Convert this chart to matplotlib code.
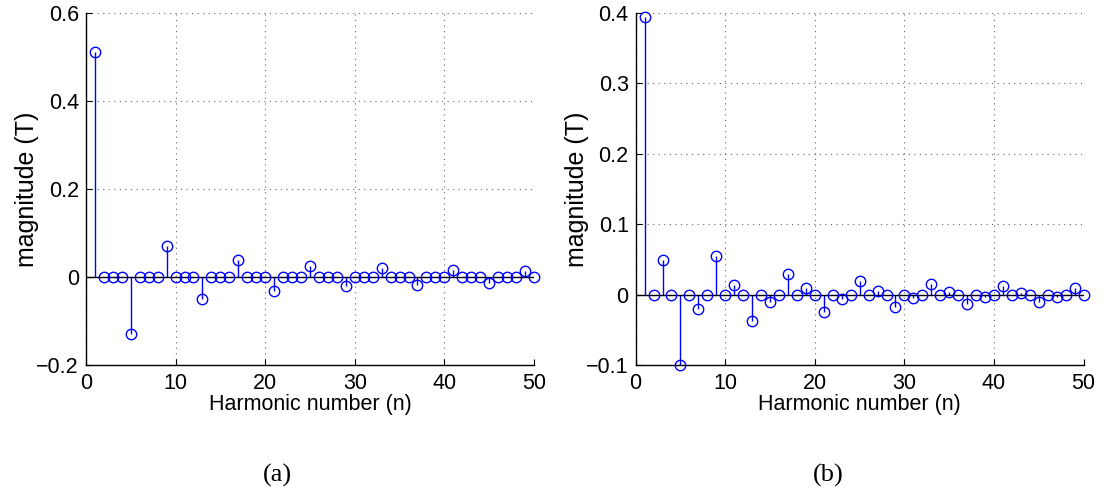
import matplotlib.pyplot as plt
import numpy as np

# Harmonic numbers 1..50
n = np.arange(1, 51)

# (a) non-zero harmonics only, everything else is 0
a_idx = [1, 5, 9, 13, 17, 21, 25, 29, 33, 37, 41, 45, 49]
a_val = [0.511, -0.129, 0.071, -0.050, 0.038, -0.031, 0.026,
         -0.021, 0.020, -0.017, 0.016, -0.013, 0.014]

# (b) odd harmonics
b_idx = [1, 3, 5, 7, 9, 11, 13, 15, 17, 19, 21, 23, 25,
         27, 29, 31, 33, 35, 37, 39, 41, 43, 45, 47, 49]
b_val = [0.394, 0.049, -0.100, -0.021, 0.055, 0.013, -0.038, -0.010,
         0.029, 0.009, -0.024, -0.006, 0.020, 0.005, -0.018, -0.005,
         0.015, 0.004, -0.014, -0.004, 0.012, 0.003, -0.011, -0.004, 0.010]

mag_a = np.zeros(50)
mag_a[np.array(a_idx) - 1] = a_val
mag_b = np.zeros(50)
mag_b[np.array(b_idx) - 1] = b_val

a_yticks = [-0.2, 0, 0.2, 0.4, 0.6]
b_yticks = [-0.1, 0, 0.1, 0.2, 0.3, 0.4]
xticks = [0, 10, 20, 30, 40, 50]

plt.rcParams['font.family'] = ['Liberation Sans', 'DejaVu Sans']

fig = plt.figure(figsize=(11.08, 4.92), dpi=100)
ax_a = fig.add_axes([0.0776, 0.2581, 0.4043, 0.7154])
ax_b = fig.add_axes([0.5737, 0.2581, 0.4043, 0.7154])


def draw(ax, mag, yticks, caption, cap_x):
    markerline, stemlines, baseline = ax.stem(n, mag, basefmt=' ')
    markerline.set_markerfacecolor('none')
    markerline.set_markeredgecolor('blue')
    markerline.set_markersize(7.5)
    markerline.set_markeredgewidth(1.0)
    markerline.set_clip_on(False)
    markerline.set_zorder(4)
    stemlines.set_color('blue')
    stemlines.set_linewidth(1.0)
    stemlines.set_clip_on(False)
    ax.axhline(0, color='black', lw=1.0, zorder=3)

    ax.set_xlim(0, 50)
    ax.set_ylim(yticks[0], yticks[-1])
    ax.set_xticks(xticks)
    ax.set_yticks(yticks)
    ax.set_yticklabels(['0' if t == 0 else f'{t:g}'.replace('-', '\u2212') for t in yticks])
    ax.grid(True, linestyle=(0, (1, 4)), color='#666666', lw=0.8)
    ax.set_axisbelow(True)
    for s in ['top', 'right']:
        ax.spines[s].set_visible(False)
    ax.spines['left'].set_linewidth(1.0)
    ax.spines['bottom'].set_linewidth(1.0)
    ax.tick_params(direction='in', length=4, labelsize=15.5)
    ax.tick_params(axis='x', pad=6)
    ax.tick_params(axis='y', pad=5)

    ax.set_xlabel('Harmonic number (n)', fontsize=15.5, labelpad=0)
    ax.set_ylabel('magnitude (T)', fontsize=18, labelpad=-2)
    fig.text(cap_x, 1 - 475 / 492, caption, ha='center', va='center',
             fontsize=19, family=['Liberation Serif', 'DejaVu Serif'])


draw(ax_a, mag_a, a_yticks, '(a)', 0.2505)
draw(ax_b, mag_b, b_yticks, '(b)', 0.7475)

fig.savefig('out.png', dpi=100)
